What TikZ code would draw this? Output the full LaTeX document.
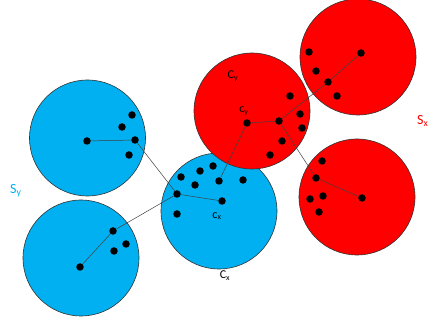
\documentclass[tikz,border=0pt]{standalone}
\usepackage{fontspec}
\setmainfont{Carlito}
\usepackage{tikz}
\definecolor{clblue}{RGB}{0,176,240}
\definecolor{clred}{RGB}{255,0,0}

\begin{document}
\begin{tikzpicture}[x=1pt, y=-1pt,
    blob/.style={circle, draw=black!80, line width=0.6pt, minimum size=116pt, inner sep=0pt},
    pt/.style={circle, fill=black, minimum size=7.5pt, inner sep=0pt},
    link/.style={draw=black!75, line width=0.5pt},
    lab/.style={inner sep=0pt, font=\fontsize{12}{14}\selectfont},
    setlab/.style={inner sep=0pt, anchor=west, font=\fontsize{14}{16}\selectfont}]
  \useasboundingbox (0,0) rectangle (432,323);
  % clusters
  \node[blob, fill=clblue] (by1) at (87.5,138) {};
  \node[blob, fill=clblue] (by2) at (81,258) {};
  \node[blob, fill=clblue] (bx) at (219,211) {};
  \node[blob, fill=clred] (ry) at (252,111) {};
  \node[blob, fill=clred] (rx1) at (358,57) {};
  \node[blob, fill=clred] (rx2) at (357,197) {};
  % points of S_y
  \node[pt] (a1) at (87,141) {};
  \node[pt] (a2) at (135,140) {};
  \node[pt] (a3) at (132,115) {};
  \node[pt] (a4) at (122,127) {};
  \node[pt] (a5) at (129,155) {};
  \node[pt] (b1) at (80,267) {};
  \node[pt] (b2) at (113,231) {};
  \node[pt] (b3) at (126,244) {};
  \node[pt] (b4) at (114,251) {};
  \node[pt] (cx) at (222,201) {};
  \node[pt] (x1) at (177,194) {};
  \node[pt] (x2) at (177,214) {};
  \node[pt] (x3) at (181,177) {};
  \node[pt] (x4) at (200,171) {};
  \node[pt] (x5) at (213,166) {};
  \node[pt] (x6) at (195,185) {};
  \node[pt] (x7) at (219,181) {};
  \node[pt] (x8) at (243,180) {};
  % points of S_x
  \node[pt] (cy) at (247,123) {};
  \node[pt] (y1) at (279,121) {};
  \node[pt] (y2) at (290,96) {};
  \node[pt] (y3) at (300,114) {};
  \node[pt] (y4) at (302,128) {};
  \node[pt] (y5) at (282,141) {};
  \node[pt] (y6) at (270,155) {};
  \node[pt] (t1) at (361,53) {};
  \node[pt] (t2) at (309,52) {};
  \node[pt] (t3) at (316,71) {};
  \node[pt] (t4) at (328,82) {};
  \node[pt] (t5) at (337,96) {};
  \node[pt] (u1) at (362,198) {};
  \node[pt] (u2) at (316,178) {};
  \node[pt] (u3) at (322,161) {};
  \node[pt] (u4) at (310,199) {};
  \node[pt] (u5) at (323,196) {};
  \node[pt] (u6) at (319,212) {};
  % links
  \draw[link] (a1) -- (a2) -- (x1);
  \draw[link] (b1) -- (b2) -- (x1);
  \draw[link] (x1) -- (cx);
  \draw[link] (x7) -- (cy) -- (y1);
  \draw[link] (y1) -- (t4) -- (t1);
  \draw[link] (y1) -- (u2) -- (u1);
  % labels
  \node[setlab, text=clblue] (sy) at (10,191) {S\textsubscript{y}};
  \node[setlab, text=clred] (sx) at (417,121) {S\textsubscript{x}};
  \node[lab] (lcx) at (225,276) {C\textsubscript{x}};
  \node[lab] (lcy) at (233,76) {C\textsubscript{y}};
  \node[lab] (scx) at (217,216) {c\textsubscript{x}};
  \node[lab] (scy) at (244,111) {c\textsubscript{y}};
\end{tikzpicture}
\end{document}
